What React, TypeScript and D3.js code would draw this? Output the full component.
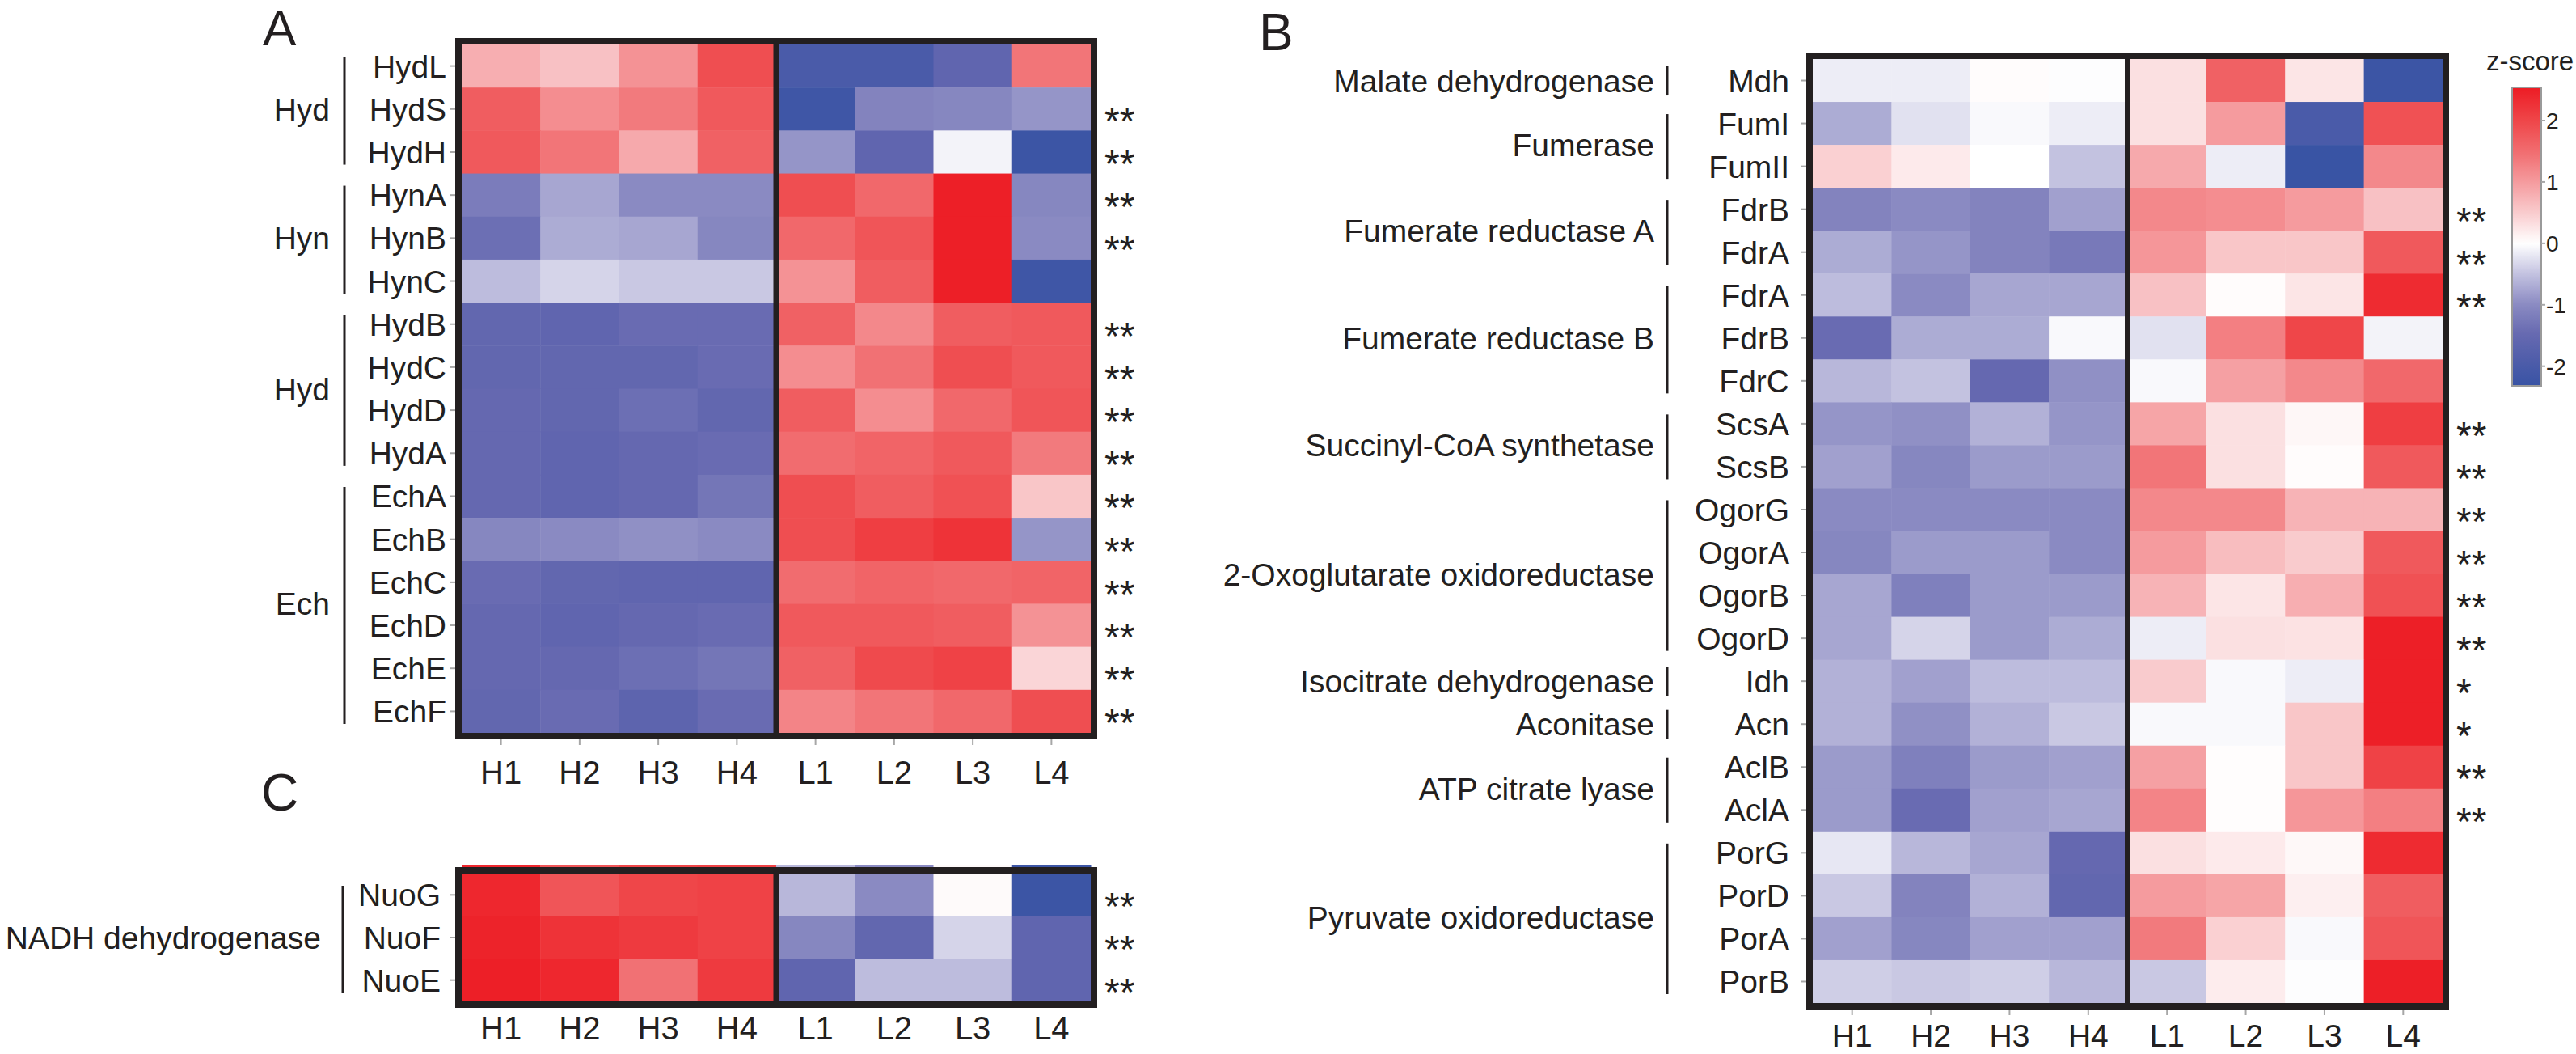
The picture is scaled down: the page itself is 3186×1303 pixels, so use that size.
import React from "react";
import * as d3 from "d3";

const columns = ["H1", "H2", "H3", "H4", "L1", "L2", "L3", "L4"];

// Panel A
const genesA = ["HydL", "HydS", "HydH", "HynA", "HynB", "HynC", "HydB", "HydC", "HydD", "HydA", "EchA", "EchB", "EchC", "EchD", "EchE", "EchF"];
const valuesA = [
  [0.8, 0.6, 1.1, 1.9, -2.0, -2.0, -1.6, 1.4],
  [1.7, 1.15, 1.35, 1.75, -2.2, -1.1, -1.05, -0.9],
  [1.75, 1.4, 0.85, 1.65, -0.9, -1.6, -0.1, -2.25],
  [-1.2, -0.75, -1.0, -1.0, 1.9, 1.55, 2.5, -1.05],
  [-1.4, -0.7, -0.75, -1.05, 1.55, 1.8, 2.5, -1.0],
  [-0.55, -0.35, -0.45, -0.45, 1.1, 1.7, 2.5, -2.2],
  [-1.55, -1.6, -1.45, -1.45, 1.65, 1.2, 1.7, 1.75],
  [-1.55, -1.55, -1.55, -1.45, 1.15, 1.45, 1.9, 1.75],
  [-1.5, -1.55, -1.4, -1.55, 1.7, 1.15, 1.55, 1.8],
  [-1.5, -1.6, -1.5, -1.45, 1.5, 1.6, 1.75, 1.35],
  [-1.5, -1.6, -1.5, -1.3, 1.9, 1.7, 1.85, 0.55],
  [-1.05, -1.0, -0.95, -1.0, 1.9, 2.1, 2.25, -0.9],
  [-1.45, -1.55, -1.6, -1.6, 1.5, 1.6, 1.55, 1.6],
  [-1.5, -1.6, -1.5, -1.45, 1.75, 1.75, 1.7, 1.1],
  [-1.5, -1.5, -1.4, -1.3, 1.65, 1.95, 2.05, 0.4],
  [-1.55, -1.45, -1.65, -1.45, 1.25, 1.4, 1.55, 1.9],
];
const sigA = ["", "**", "**", "**", "**", "", "**", "**", "**", "**", "**", "**", "**", "**", "**", "**"];
const groupLabelsA = ["Hyd", "Hyn", "Hyd", "Ech"];
const groupSizesA = [3, 3, 4, 6];

// Panel C
const genesC = ["NuoG", "NuoF", "NuoE"];
const valuesC = [
  [2.4, 1.8, 2.0, 2.05, -0.6, -1.0, 0.05, -2.25],
  [2.45, 2.25, 2.15, 2.05, -1.05, -1.55, -0.35, -1.6],
  [2.5, 2.4, 1.45, 2.15, -1.6, -0.55, -0.55, -1.6],
];
const sigC = ["**", "**", "**"];
const groupLabelsC = ["NADH dehydrogenase"];
const groupSizesC = [3];

// Panel B
const genesB = ["Mdh", "FumI", "FumII", "FdrB", "FdrA", "FdrA", "FdrB", "FdrC", "ScsA", "ScsB", "OgorG", "OgorA", "OgorB", "OgorD", "Idh", "Acn", "AclB", "AclA", "PorG", "PorD", "PorA", "PorB"];
const valuesB = [
  [-0.15, -0.15, 0.03, -0.02, 0.3, 1.65, 0.25, -2.25],
  [-0.7, -0.25, -0.05, -0.15, 0.3, 1.0, -2.0, 1.85],
  [0.45, 0.2, 0.0, -0.5, 0.85, -0.15, -2.3, 1.2],
  [-1.1, -1.0, -1.1, -0.8, 1.2, 1.15, 1.0, 0.6],
  [-0.7, -0.9, -1.1, -1.25, 1.05, 0.55, 0.55, 1.75],
  [-0.55, -1.0, -0.75, -0.75, 0.6, 0.03, 0.25, 2.35],
  [-1.45, -0.7, -0.7, -0.05, -0.25, 1.3, 2.0, -0.1],
  [-0.6, -0.5, -1.5, -0.95, -0.05, 0.95, 1.2, 1.55],
  [-0.9, -0.95, -0.65, -0.9, 0.9, 0.3, 0.08, 2.1],
  [-0.8, -1.05, -0.85, -0.85, 1.4, 0.3, 0.03, 1.75],
  [-1.0, -1.0, -1.0, -1.0, 1.2, 1.2, 0.75, 0.75],
  [-1.05, -0.85, -0.85, -1.0, 1.0, 0.65, 0.5, 1.75],
  [-0.75, -1.15, -0.85, -0.85, 0.75, 0.25, 0.8, 1.85],
  [-0.75, -0.35, -0.85, -0.7, -0.15, 0.3, 0.28, 2.5],
  [-0.65, -0.8, -0.55, -0.55, 0.5, -0.05, -0.15, 2.5],
  [-0.65, -0.95, -0.65, -0.45, -0.05, -0.05, 0.55, 2.5],
  [-0.85, -1.15, -0.85, -0.8, 0.95, 0.02, 0.55, 2.05],
  [-0.85, -1.45, -0.8, -0.75, 1.25, 0.02, 1.05, 1.3],
  [-0.2, -0.6, -0.75, -1.5, 0.3, 0.2, 0.07, 2.35],
  [-0.45, -1.1, -0.65, -1.55, 1.0, 0.9, 0.15, 1.7],
  [-0.8, -1.05, -0.8, -0.8, 1.35, 0.45, -0.05, 1.8],
  [-0.4, -0.45, -0.4, -0.6, -0.45, 0.18, -0.02, 2.5],
];
const sigB = ["", "", "", "**", "**", "**", "", "", "**", "**", "**", "**", "**", "**", "*", "*", "**", "**", "", "", "", ""];
const groupLabelsB = ["Malate dehydrogenase", "Fumerase", "Fumerate reductase A", "Fumerate reductase B", "Succinyl-CoA synthetase", "2-Oxoglutarate oxidoreductase", "Isocitrate dehydrogenase", "Aconitase", "ATP citrate lyase", "Pyruvate oxidoreductase"];
const groupSizesB = [1, 2, 2, 3, 2, 4, 1, 1, 2, 4];

// Colour scale
const colorStopValues = [-2.32, -1.5, -1.0, -0.5, 0, 0.5, 1.0, 1.5, 2.0, 2.54];
const colorStopColors = ["#3853A4", "#6568B0", "#8A8AC2", "#C3C2E0", "#FFFFFF", "#F9CBCD", "#F59B9E", "#F16C6F", "#EF4649", "#ED1C24"];
const legendTicks = [-2, -1, 0, 1, 2];
const legendTitle = "z-score";

const FONT = "'Liberation Sans', Arial, Helvetica, sans-serif";
const INK = "#231F20";
const TICK = "#A7A7A7";

const color = d3
  .scaleLinear<string>()
  .domain(colorStopValues)
  .range(colorStopColors)
  .interpolate(d3.interpolateRgb)
  .clamp(true);

type PanelProps = {
  rows: string[];
  values: number[][];
  sig: string[];
  groupLabels: string[];
  groupSizes: number[];
  x0: number;
  x1: number;
  y0: number;
  y1: number;
  rowLabelRight: number;
  groupRight: number;
  bracketX: number;
  colLabelY: number;
  colLabelSize: number;
  bottomTicks: boolean;
  topBleed: boolean;
};

function Heatmap(p: PanelProps) {
  const x = d3.scaleBand<string>().domain(columns).range([p.x0, p.x1]);
  const y = d3
    .scaleBand<string>()
    .domain(p.rows.map((_, i) => String(i)))
    .range([p.y0, p.y1]);
  const bw = x.bandwidth();
  const bh = y.bandwidth();
  const sepX = x("L1") as number;
  let start = 0;
  const groups = p.groupSizes.map((n, gi) => {
    const g = { label: p.groupLabels[gi], from: start, n };
    start += n;
    return g;
  });
  const B = 8;
  return (
    <g>
      {p.topBleed &&
        columns.map((c, ci) => (
          <rect key={"tb" + c} x={x(c)} y={p.y0 - 11} width={bw + 0.5} height={12} fill={color(p.values[0][ci])} />
        ))}
      {p.values.map((row, ri) =>
        row.map((v, ci) => (
          <rect
            key={ri + "-" + ci}
            x={x(columns[ci])}
            y={y(String(ri))}
            width={bw + 0.5}
            height={bh + 0.5}
            fill={color(v)}
          />
        ))
      )}
      <rect
        x={p.x0 - B / 2}
        y={p.y0 - B / 2}
        width={p.x1 - p.x0 + B}
        height={p.y1 - p.y0 + B}
        fill="none"
        stroke={INK}
        strokeWidth={B}
      />
      <line x1={sepX} x2={sepX} y1={p.y0 - B / 2} y2={p.y1 + B / 2} stroke={INK} strokeWidth={7} />
      {p.rows.map((r, ri) => {
        const cy = (y(String(ri)) as number) + bh / 2;
        return (
          <g key={"rl" + ri}>
            <line x1={p.x0 - B - 6} x2={p.x0 - B} y1={cy} y2={cy} stroke={TICK} strokeWidth={2} />
            <text x={p.rowLabelRight} y={cy + 14} textAnchor="end" fontSize={39} fill={INK} fontFamily={FONT}>
              {r}
            </text>
            {p.sig[ri] && (
              <text x={p.x1 + B + 9} y={cy + 31} fontSize={48} fill={INK} fontFamily={FONT}>
                {p.sig[ri]}
              </text>
            )}
          </g>
        );
      })}
      {groups.map((g, gi) => {
        const top = y(String(g.from)) as number;
        const bottom = (y(String(g.from + g.n - 1)) as number) + bh;
        const b1 = top + (g.n > 1 ? 15 : 9);
        const b2 = bottom - (g.n > 1 ? 11 : 8);
        return (
          <g key={"g" + gi}>
            <line x1={p.bracketX} x2={p.bracketX} y1={b1} y2={b2} stroke={INK} strokeWidth={3} />
            <text x={p.groupRight} y={(top + bottom) / 2 + 14} textAnchor="end" fontSize={39} fill={INK} fontFamily={FONT}>
              {g.label}
            </text>
          </g>
        );
      })}
      {columns.map((c) => {
        const cx = (x(c) as number) + bw / 2;
        return (
          <g key={"cl" + c}>
            {p.bottomTicks && <line x1={cx} x2={cx} y1={p.y1 + B} y2={p.y1 + B + 7} stroke={TICK} strokeWidth={2} />}
            <text x={cx} y={p.colLabelY} textAnchor="middle" fontSize={p.colLabelSize} fill={INK} fontFamily={FONT}>
              {c}
            </text>
          </g>
        );
      })}
    </g>
  );
}

function Legend() {
  const top = 108;
  const bottom = 477;
  const lx = 3107;
  const lw = 36;
  const dom = [colorStopValues[0], colorStopValues[colorStopValues.length - 1]];
  const ly = d3.scaleLinear().domain(dom).range([bottom, top]);
  const samples = d3.range(0, 41).map((i) => dom[0] + ((dom[1] - dom[0]) * i) / 40);
  return (
    <g>
      <defs>
        <linearGradient id="zgrad" x1="0" y1="1" x2="0" y2="0">
          {samples.map((v, i) => (
            <stop key={i} offset={(v - dom[0]) / (dom[1] - dom[0])} stopColor={color(v)} />
          ))}
        </linearGradient>
      </defs>
      <text x={3129} y={87} textAnchor="middle" fontSize={33} fill={INK} fontFamily={FONT}>
        {legendTitle}
      </text>
      <rect x={lx} y={top} width={lw} height={bottom - top} fill="url(#zgrad)" stroke="#9A9A9A" strokeWidth={2} />
      {legendTicks.map((t) => (
        <g key={t}>
          <line x1={lx + lw} x2={lx + lw + 5} y1={ly(t)} y2={ly(t)} stroke={TICK} strokeWidth={2} />
          <text x={3149} y={ly(t) + 10} fontSize={28} fill={INK} fontFamily={FONT}>
            {t}
          </text>
        </g>
      ))}
    </g>
  );
}

export default function App() {
  return (
    <div style={{ position: "absolute", left: 0, top: 0, background: "#fff" }}>
      <svg width={3186} height={1303} style={{ display: "block" }}>
        <rect x={0} y={0} width={3186} height={1303} fill="#fff" />
        <text x={325} y={56} fontSize={62} fill={INK} fontFamily={FONT}>A</text>
        <text x={1557} y={62} fontSize={64} fill={INK} fontFamily={FONT}>B</text>
        <text x={323} y={1002} fontSize={64} fill={INK} fontFamily={FONT}>C</text>
        <Heatmap
          rows={genesA}
          values={valuesA}
          sig={sigA}
          groupLabels={groupLabelsA}
          groupSizes={groupSizesA}
          x0={571}
          x1={1349}
          y0={55}
          y1={906}
          rowLabelRight={552}
          groupRight={408}
          bracketX={426}
          colLabelY={969}
          colLabelSize={40}
          bottomTicks={true}
          topBleed={false}
        />
        <Heatmap
          rows={genesC}
          values={valuesC}
          sig={sigC}
          groupLabels={groupLabelsC}
          groupSizes={groupSizesC}
          x0={571}
          x1={1349}
          y0={1080}
          y1={1238}
          rowLabelRight={545}
          groupRight={397}
          bracketX={424}
          colLabelY={1285}
          colLabelSize={40}
          bottomTicks={false}
          topBleed={true}
        />
        <Heatmap
          rows={genesB}
          values={valuesB}
          sig={sigB}
          groupLabels={groupLabelsB}
          groupSizes={groupSizesB}
          x0={2242}
          x1={3021}
          y0={73}
          y1={1240}
          rowLabelRight={2213}
          groupRight={2046}
          bracketX={2062}
          colLabelY={1294}
          colLabelSize={39}
          bottomTicks={true}
          topBleed={false}
        />
        <Legend />
      </svg>
    </div>
  );
}
